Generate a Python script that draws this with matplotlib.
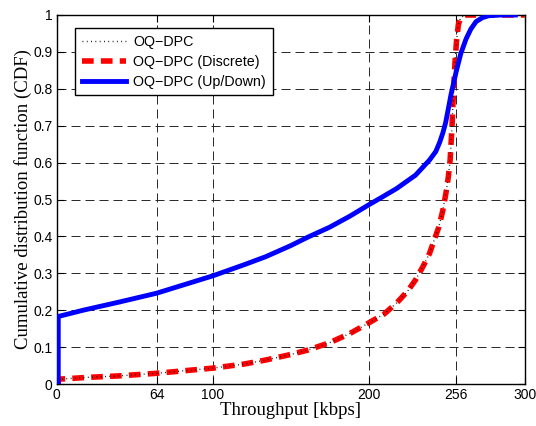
import matplotlib
matplotlib.use("Agg")
import matplotlib.pyplot as plt

# Data
xticks = [0, 64, 100, 200, 256, 300]
yticks = [0, 0.1, 0.2, 0.3, 0.4, 0.5, 0.6, 0.7, 0.8, 0.9, 1.0]
ytick_labels = ['0', '0.1', '0.2', '0.3', '0.4', '0.5', '0.6', '0.7', '0.8', '0.9', '1']

# OQ-DPC and OQ-DPC (Discrete) (overlapping curves)
disc_x = [1, 1, 20, 40, 64, 100, 120, 134, 150, 161, 175, 188, 199, 210, 218, 225, 230, 235, 239, 242, 245, 247.5, 249.5, 251, 252.2, 253.4, 254.3, 255.3, 256.3, 257.5, 259, 262, 270, 300]
disc_y = [0.0, 0.013, 0.018, 0.022, 0.029, 0.043, 0.054, 0.065, 0.08, 0.092, 0.112, 0.137, 0.163, 0.19, 0.22, 0.252, 0.282, 0.32, 0.354, 0.39, 0.426, 0.47, 0.517, 0.56, 0.607, 0.697, 0.788, 0.87, 0.93, 0.975, 0.993, 1.0, 1.0, 1.0]

# OQ-DPC (Up/Down)
ud_x = [1, 1, 17, 40, 64, 100, 120, 134, 150, 161, 175, 188, 199, 210, 218, 230, 239, 243, 245.5, 247.5, 249.3, 251, 252.8, 256, 259, 262.4, 265.5, 268.8, 273, 277, 285, 294]
ud_y = [0.0, 0.183, 0.2, 0.222, 0.246, 0.293, 0.323, 0.345, 0.375, 0.398, 0.425, 0.455, 0.483, 0.51, 0.53, 0.566, 0.607, 0.63, 0.655, 0.68, 0.708, 0.745, 0.785, 0.845, 0.895, 0.935, 0.962, 0.982, 0.993, 0.998, 1.0, 1.0]

plt.rcParams['font.family'] = ['Liberation Sans', 'DejaVu Sans']

fig = plt.figure(figsize=(5.36, 4.26), dpi=100)
ax = fig.add_axes([56.7/536, (426-384)/426, 468/536, 369/426])

ax.plot(disc_x, disc_y, color='black', linestyle=(0, (0.6, 2.5)), linewidth=1.0, label='OQ\u2212DPC', zorder=3)
ax.plot(disc_x, disc_y, color='red', linestyle=(0, (2.1, 1.3)), linewidth=4.0, label='OQ\u2212DPC (Discrete)', zorder=2)
ax.plot(ud_x, ud_y, color='blue', linestyle='-', linewidth=3.5, label='OQ\u2212DPC (Up/Down)', zorder=4,
        solid_joinstyle='round')

ax.set_xlim(0, 300)
ax.set_ylim(0, 1)
ax.set_xticks(xticks)
ax.set_xticklabels([str(t) for t in xticks])
ax.set_yticks(yticks)
ax.set_yticklabels(ytick_labels)
ax.tick_params(direction='in', top=True, right=True, labelsize=10, length=5, width=0.8, pad=3)
ax.grid(True, color='0.15', linestyle=(0, (9.3, 5.1)), linewidth=0.7)
for s in ax.spines.values():
    s.set_linewidth(1.0)

ax.set_xlabel('Throughput [kbps]', family='Liberation Serif', fontsize=13.5, labelpad=0)
ax.set_ylabel('Cumulative distribution function (CDF)', family='Liberation Serif', fontsize=13.5, labelpad=1)

leg = ax.legend(loc='upper left', bbox_to_anchor=(0.04, 0.964), fontsize=10.3, frameon=True, fancybox=False,
                edgecolor='black', framealpha=1, handlelength=3.1, borderpad=0.45, labelspacing=0.42,
                handletextpad=0.5, borderaxespad=0)
leg.get_frame().set_linewidth(1.0)

fig.savefig('out.png', dpi=100)
